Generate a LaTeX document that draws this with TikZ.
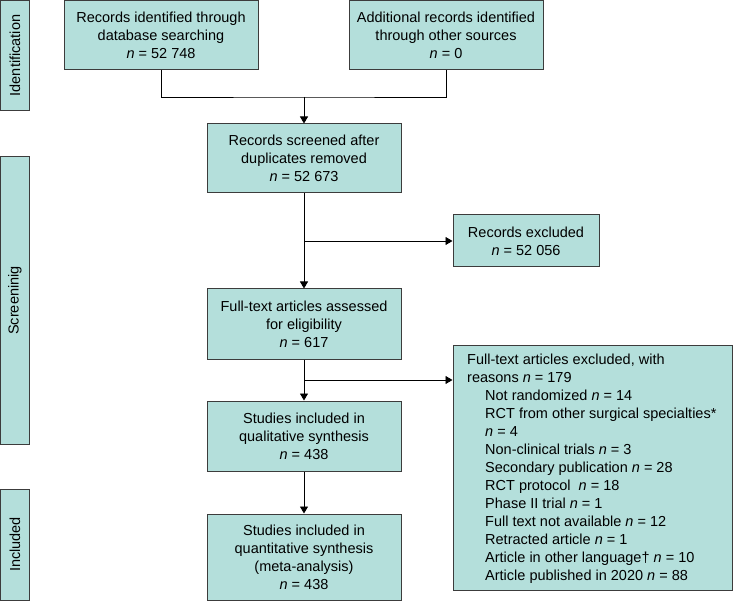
\documentclass[tikz,border=0pt]{standalone}
\usepackage{fontspec}
\setmainfont{Liberation Sans}
\usetikzlibrary{arrows.meta}
\definecolor{boxfill}{RGB}{180,223,219}
\definecolor{boxline}{RGB}{60,60,60}
\begin{document}
\begin{tikzpicture}[x=1pt,y=-1pt,
  every node/.style={font=\fontsize{14.5}{18}\selectfont},
  box/.style={draw=boxline,fill=boxfill,line width=1pt,align=center,inner sep=0pt,minimum width=194pt},
  side/.style={draw=boxline,fill=boxfill,line width=1pt,rotate=90,inner sep=0pt,minimum height=29pt},
  conn/.style={line width=0.9pt,draw=black},
  arr/.style={conn,-{Triangle[width=8pt,length=7pt]}}]
\useasboundingbox (0,0) rectangle (733,601);
% side labels
\node[side,minimum width=110pt] (s1) at (15,55.5) {Identification};
\node[side,minimum width=287pt] (s2) at (15,300.5) {Screeninig};
\node[side,minimum width=111pt] (s3) at (15,544.5) {Included};
% main boxes
\node[box,minimum height=69.5pt] (b1) at (161,35.25) {Records identified through\\database searching\\\textit{n} = 52 748};
\node[box,minimum height=69.5pt] (b2) at (446,35.25) {Additional records identified\\through other sources\\\textit{n} = 0};
\node[box,minimum height=69pt] (b3) at (304,158.5) {Records screened after\\duplicates removed\\\textit{n} = 52 673};
\node[box,minimum width=146pt,minimum height=52pt] (e1) at (526,241) {Records excluded\\\textit{n} = 52 056};
\node[box,minimum height=70pt] (b4) at (304,324) {Full-text articles assessed\\for eligibility\\\textit{n} = 617};
\node[box,minimum height=70pt] (b5) at (304,436) {Studies included in\\qualitative synthesis\\\textit{n} = 438};
\node[box,minimum height=86pt] (b6) at (304,557) {Studies included in\\quantitative synthesis\\(meta-analysis)\\\textit{n} = 438};
\node[box,minimum width=279pt,minimum height=245pt] (e2) at (592.5,467.5) {};
\node[align=left,inner sep=0pt,anchor=west] (e2t) at (467,469)
{Full-text articles excluded, with\\
reasons \textit{n} = 179\\
\hspace*{18pt}Not randomized \textit{n} = 14\\
\hspace*{18pt}RCT from other surgical specialties*\\
\hspace*{18pt}\textit{n} = 4\\
\hspace*{18pt}Non-clinical trials \textit{n} = 3\\
\hspace*{18pt}Secondary publication \textit{n} = 28\\
\hspace*{18pt}RCT protocol \ \textit{n} = 18\\
\hspace*{18pt}Phase II trial \textit{n} = 1\\
\hspace*{18pt}Full text not available \textit{n} = 12\\
\hspace*{18pt}Retracted article \textit{n} = 1\\
\hspace*{18pt}Article in other language† \textit{n} = 10\\
\hspace*{18pt}Article published in 2020 \textit{n} = 88};
% connectors
\coordinate (m1) at (304,97);
\coordinate (j1) at (304,241);
\coordinate (j2) at (304,380);
\draw[conn] (b1.south) |- (m1) -| (b2.south);
\draw[arr] (m1) -- (b3.north);
\draw[arr] (b3.south) -- (b4.north);
\draw[arr] (j1) -- (e1.west);
\draw[arr] (b4.south) -- (b5.north);
\draw[arr] (j2) -- (j2 -| e2.west);
\draw[arr] (b5.south) -- (b6.north);
\end{tikzpicture}
\end{document}
